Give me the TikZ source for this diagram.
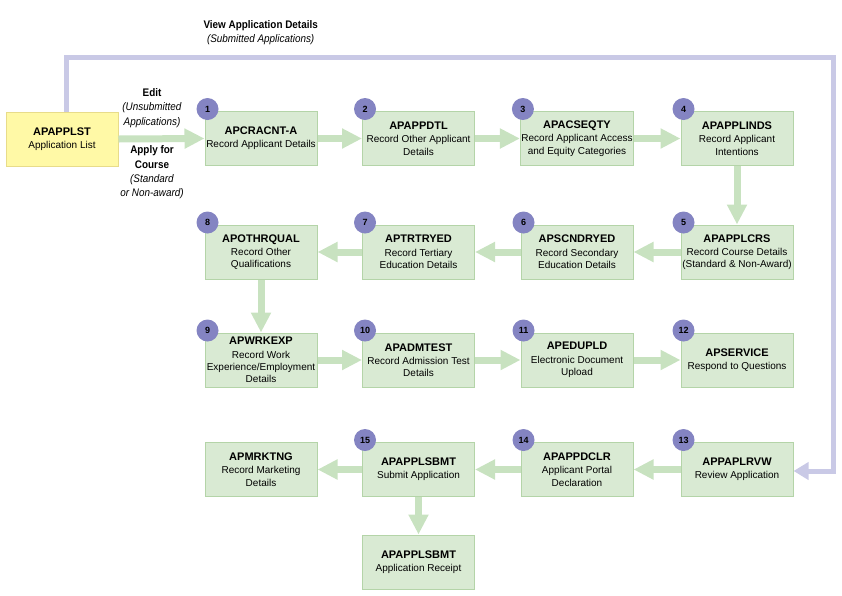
\documentclass[tikz,border=0pt]{standalone}
\usepackage{fontspec}
\setmainfont{Liberation Sans}
\newfontfamily\narrowfont{Liberation Sans}[FakeStretch=0.9]
\usepackage{tikz}
\usetikzlibrary{positioning, arrows.meta, calc}

\definecolor{boxgreen}{HTML}{D9EAD3}
\definecolor{boxgreenline}{HTML}{B4D4A8}
\definecolor{boxyellow}{HTML}{FFF9A6}
\definecolor{boxyellowline}{HTML}{E8DC8A}
\definecolor{flowgreen}{HTML}{C8E2C0}
\definecolor{viewpurple}{HTML}{C9C9E6}
\definecolor{badgepurple}{HTML}{8484C2}

\newcommand{\scr}[2]{{\fontsize{11}{13}\selectfont\bfseries #1}\\[1pt]#2}

\begin{document}
\begin{tikzpicture}[
    x=1pt, y=-1pt,
    screen/.style={draw=boxgreenline, fill=boxgreen, line width=1pt, minimum width=112pt,
        minimum height=54pt, inner sep=1pt, align=center, font=\fontsize{10}{12.3}\selectfont},
    start/.style={screen, draw=boxyellowline, fill=boxyellow},
    badge/.style={circle, fill=badgepurple, minimum size=22pt, inner sep=0pt,
        font=\fontsize{9}{9}\selectfont\bfseries},
    flow/.style={-{Triangle[length=20pt, width=19pt]}, line width=7pt, draw=flowgreen},
    viewarr/.style={-{Triangle[length=15pt, width=17pt]}, line width=5pt, draw=viewpurple},
    lbl/.style={align=center, font=\narrowfont\fontsize{11}{14.3}\selectfont}
]
\useasboundingbox (0,0) rectangle (842,595);

\node[start] (applst) at (62,139) {\scr{APAPPLST}{Application List}};

% row 1
\node[screen] (cracnt) at (261,138.5) {\scr{APCRACNT-A}{Record Applicant Details}};
\node[screen] (appdtl) at (418.5,138.5) {\scr{APAPPDTL}{Record Other Applicant\\Details}};
\node[screen] (acseqty) at (577,138.5) {\scr{APACSEQTY}{Record Applicant Access\\and Equity Categories}};
\node[screen] (applinds) at (737,138.5) {\scr{APAPPLINDS}{Record Applicant\\Intentions}};

% row 2
\node[screen] (othrqual) at (261,252) {\scr{APOTHRQUAL}{Record Other\\Qualifications}};
\node[screen] (trtryed) at (418.5,252) {\scr{APTRTRYED}{Record Tertiary\\Education Details}};
\node[screen] (scndryed) at (577,252) {\scr{APSCNDRYED}{Record Secondary\\Education Details}};
\node[screen] (applcrs) at (737,252) {\scr{APAPPLCRS}{Record Course Details\\(Standard \& Non-Award)}};

% row 3
\node[screen] (wrkexp) at (261,360) {\scr{APWRKEXP}{Record Work\\Experience/Employment\\Details}};
\node[screen] (admtest) at (418.5,360) {\scr{APADMTEST}{Record Admission Test\\Details}};
\node[screen] (edupld) at (577,360) {\scr{APEDUPLD}{Electronic Document\\Upload}};
\node[screen] (service) at (737,360) {\scr{APSERVICE}{Respond to Questions}};

% row 4
\node[screen] (mrktng) at (261,469.5) {\scr{APMRKTNG}{Record Marketing\\Details}};
\node[screen] (applsbmt) at (418.5,469.5) {\scr{APAPPLSBMT}{Submit Application}};
\node[screen] (appdclr) at (577,469.5) {\scr{APAPPDCLR}{Applicant Portal\\Declaration}};
\node[screen] (aplrvw) at (737,469.5) {\scr{APPAPLRVW}{Review Application}};
\node[screen] (receipt) at (418.5,562) {\scr{APAPPLSBMT}{Application Receipt}};

% numbers
\foreach \scrn/\num in {cracnt/1, appdtl/2, acseqty/3, applinds/4, applcrs/5, scndryed/6,
    trtryed/7, othrqual/8, wrkexp/9, admtest/10, edupld/11, service/12, aplrvw/13,
    appdclr/14, applsbmt/15}
    \node[badge] (b\num) at ([shift={(3pt,2pt)}]\scrn.north west) {\num};

% flow
\draw[flow] (applst.east) -- (cracnt.west);
\draw[flow] (cracnt.east) -- (appdtl.west);
\draw[flow] (appdtl.east) -- (acseqty.west);
\draw[flow] (acseqty.east) -- (applinds.west);
\draw[flow] (applinds.south) -- (applcrs.north);
\draw[flow] (applcrs.west) -- (scndryed.east);
\draw[flow] (scndryed.west) -- (trtryed.east);
\draw[flow] (trtryed.west) -- (othrqual.east);
\draw[flow] (othrqual.south) -- (wrkexp.north);
\draw[flow] (wrkexp.east) -- (admtest.west);
\draw[flow] (admtest.east) -- (edupld.west);
\draw[flow] (edupld.east) -- (service.west);
\draw[flow] (aplrvw.west) -- (appdclr.east);
\draw[flow] (appdclr.west) -- (applsbmt.east);
\draw[flow] (applsbmt.west) -- (mrktng.east);
\draw[flow] (applsbmt.south) -- (receipt.north);

% view details
\coordinate (viewcorner) at (833,57);
\coordinate (viewturn) at (833,471);
\draw[viewarr] ([xshift=4pt]applst.north) |- (viewcorner) -- (viewturn) -- (aplrvw.east |- viewturn);

\node[lbl, anchor=west] (viewlbl) at (200,33) {\bfseries View Application Details\\\textit{(Submitted Applications)}};
\node[lbl] (editlbl) at (152,108) {\bfseries Edit\\\textit{(Unsubmitted}\\\textit{Applications)}};
\node[lbl] (applylbl) at (152,172.5) {\bfseries Apply for\\\bfseries Course\\\textit{(Standard}\\\textit{or Non-award)}};
\end{tikzpicture}
\end{document}
